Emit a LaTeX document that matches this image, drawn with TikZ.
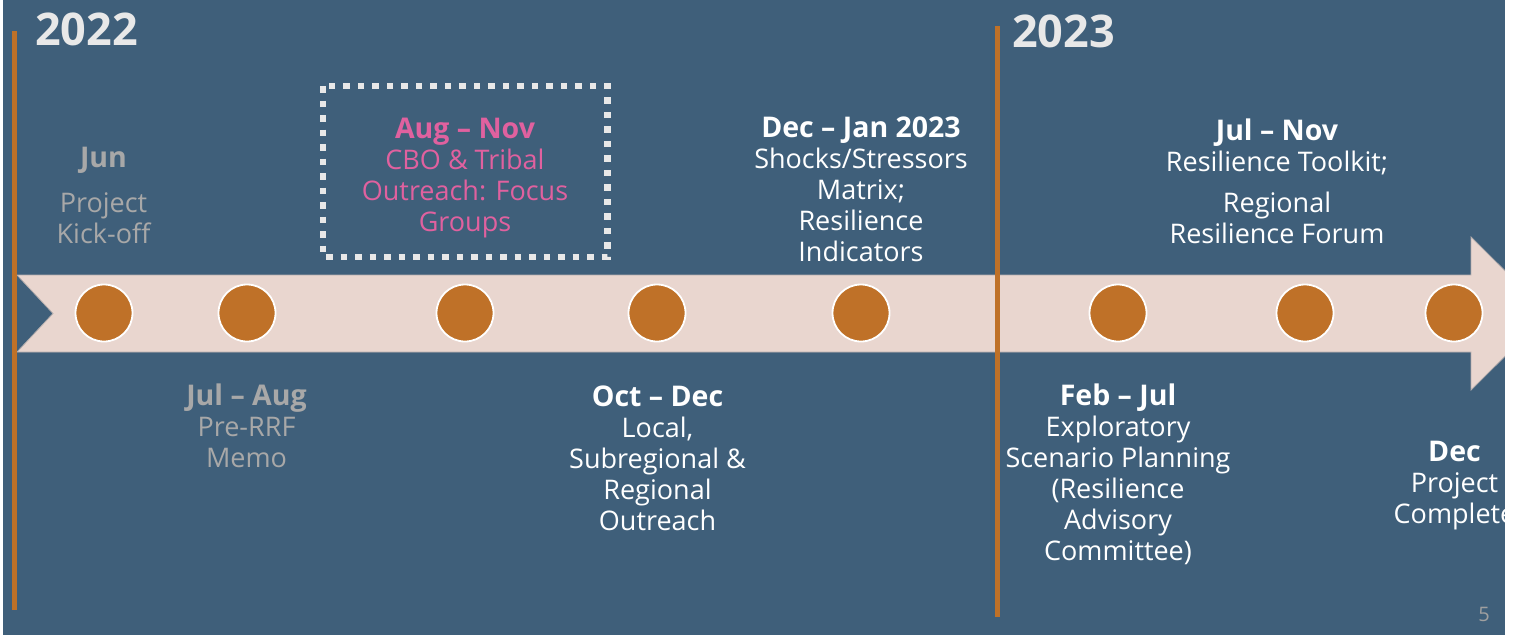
\documentclass[tikz,border=0pt]{standalone}
\usepackage{fontspec}
\setmainfont{Open Sans}
\definecolor{bgblue}{HTML}{3F5F7A}
\definecolor{bandpink}{HTML}{E9D6CF}
\definecolor{bandedge}{HTML}{B5AEAD}
\definecolor{dotorange}{HTML}{BF7128}
\definecolor{pinktext}{HTML}{E0619F}
\definecolor{mutegray}{HTML}{A8A8A8}
\definecolor{yeargray}{HTML}{E8E8E8}
\definecolor{pagegray}{HTML}{A0A0A0}
\newcommand{\hdline}[1]{{\fontsize{28.5}{31}\selectfont\bfseries #1}}
\begin{document}
\begin{tikzpicture}[x=1pt,y=-1pt]
\tikzset{
  milestone/.style={circle, fill=dotorange, draw=white, line width=1.8pt, minimum size=57pt, inner sep=0pt},
  lbl/.style={align=center, anchor=north, inner sep=0pt, font=\fontsize{27}{31}\selectfont, text=white},
  mutelbl/.style={lbl, text=mutegray},
  pinklbl/.style={lbl, text=pinktext},
  yearlbl/.style={anchor=base west, inner sep=0pt, font=\fontsize{45}{50}\selectfont\bfseries, text=yeargray},
  yearline/.style={draw=dotorange, line width=5pt},
  focusbox/.style={draw=yeargray, line width=6.5pt, dash pattern=on 6.5pt off 8pt}
}
\useasboundingbox (0,0) rectangle (1515,635);
\fill[bgblue] (3,0) rectangle (1505,635);
% band arrow
\filldraw[fill=bandpink, draw=bandedge, line width=0.8pt]
  (17,275) -- (1471,275) -- (1471,237) -- (1548,313.5) -- (1471,390) -- (1471,352) -- (17,352) -- (53,313.5) -- cycle;
% year lines
\coordinate (l1top) at (14.5,31);
\coordinate (l1bot) at (14.5,610);
\coordinate (l2top) at (997.5,26);
\coordinate (l2bot) at (997.5,617);
\draw[yearline] (l1top) -- (l1bot);
\draw[yearline] (l2top) -- (l2bot);
% years
\node[yearlbl] (y2022) at (35,45) {2022};
\node[yearlbl] (y2023) at (1012,47) {2023};
% milestones
\node[milestone] (c1) at (104,313) {};
\node[milestone] (c2) at (247,313) {};
\node[milestone] (c3) at (465,313) {};
\node[milestone] (c4) at (657,313) {};
\node[milestone] (c5) at (861,313) {};
\node[milestone] (c6) at (1118,313) {};
\node[milestone] (c7) at (1305,313) {};
\node[milestone] (c8) at (1454,313) {};
% focus box
\coordinate (fb1) at (323,86);
\coordinate (fb2) at (607.5,257);
\draw[focusbox] (fb1) rectangle (fb2);
% labels above
\node[mutelbl] (t1) at (103.5,147) {\hdline{Jun}\\[14pt]Project\\Kick-off};
\node[pinklbl] (t3) at (465,118) {\hdline{Aug – Nov}\\CBO \& Tribal\\Outreach: Focus\\Groups};
\node[lbl] (t5) at (861,117) {\hdline{Dec – Jan 2023}\\Shocks/Stressors\\Matrix;\\Resilience\\Indicators};
\node[lbl] (t7) at (1277,119) {\hdline{Jul – Nov}\\Resilience Toolkit;\\[10pt]Regional\\Resilience Forum};
% labels below
\node[mutelbl] (t2) at (246.5,384) {\hdline{Jul – Aug}\\Pre-RRF\\Memo};
\node[lbl] (t4) at (657.5,386) {\hdline{Oct – Dec}\\Local,\\Subregional \&\\Regional\\Outreach};
\node[lbl] (t6) at (1118,384) {\hdline{Feb – Jul}\\Exploratory\\Scenario Planning\\(Resilience\\Advisory\\Committee)};
\node[lbl] (t8) at (1454.5,441) {\hdline{Dec}\\Project\\Complete};
% page number
\node[inner sep=0pt, text=pagegray, font=\fontsize{20}{22}\selectfont] (pg) at (1484,614) {5};
% slide edges
\fill[white] (1505,0) rectangle (1515,635);
\fill[white] (0,0) rectangle (3,635);
\end{tikzpicture}
\end{document}
